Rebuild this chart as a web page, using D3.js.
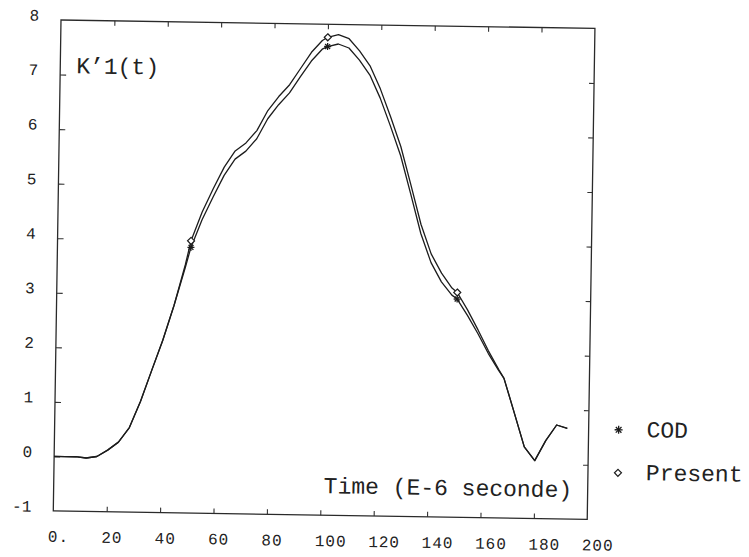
<!DOCTYPE html>
<html lang="en">
  <head>
    <meta charset="utf-8" />
    <title>K'1(t) - COD vs Present</title>
    <script src="https://cdnjs.cloudflare.com/ajax/libs/d3/7.8.5/d3.min.js"></script>
    <style>
      body { margin: 0; background: #fff; }
      text { font-family: "Liberation Mono", "DejaVu Sans Mono", monospace; fill: #222; }
    </style>
  </head>
  <body>
    <script type="text/javascript">
      /*************************** Data ***************************/

      var time = [0, 4, 8, 12, 16, 20, 24, 28, 32, 36, 40, 44, 48, 50,
        54, 58, 62, 66, 70, 74, 78, 82, 86, 90, 94, 98, 100,
        104, 108, 112, 116, 120, 124, 128, 132, 136, 140, 144, 148, 150,
        154, 158, 162, 166, 168, 172, 176, 180, 184, 188, 192];

      var present = [0, 0, 0, -0.02, 0.01, 0.13, 0.28, 0.55, 1.03, 1.6, 2.16, 2.8, 3.55, 3.99,
        4.52, 4.95, 5.35, 5.65, 5.8, 6.03, 6.4, 6.66, 6.88, 7.18, 7.48, 7.7, 7.76,
        7.81, 7.74, 7.52, 7.25, 6.83, 6.32, 5.78, 5.08, 4.36, 3.82, 3.47, 3.2, 3.12,
        2.8, 2.44, 2.06, 1.72, 1.56, 0.94, 0.31, 0.06, 0.43, 0.72, 0.66];

      var cod = [0, 0, 0, -0.02, 0.01, 0.13, 0.28, 0.55, 1.03, 1.6, 2.16, 2.8, 3.5, 3.87,
        4.38, 4.8, 5.2, 5.5, 5.65, 5.88, 6.25, 6.51, 6.73, 7.03, 7.32, 7.54, 7.59,
        7.64, 7.57, 7.35, 7.08, 6.66, 6.15, 5.61, 4.91, 4.19, 3.66, 3.31, 3.07, 3.0,
        2.7, 2.37, 2.01, 1.7, 1.56, 0.94, 0.31, 0.06, 0.43, 0.72, 0.66];

      var marker_times = [50, 100, 150];

      var x_ticks = [0, 20, 40, 60, 80, 100, 120, 140, 160, 180, 200];
      var x_tick_labels = ["0.", "20", "40", "60", "80", "100", "120", "140", "160", "180", "200"];
      var y_ticks = [-1, 0, 1, 2, 3, 4, 5, 6, 7, 8];

      var legend_labels = ["COD", "Present"];

      /*************************** Canvas ***************************/

      var width = 749, height = 557;
      var plot_w = 534, plot_h = 491;

      var svg = d3.select("body").append("svg")
        .attr("width", width)
        .attr("height", height);

      // the scanned page sits a little crooked
      var g = svg.append("g").attr("transform", "translate(61,20) rotate(0.9)");

      var x = d3.scaleLinear().domain([0, 200]).range([0, plot_w]);
      var y = d3.scaleLinear().domain([-1, 8]).range([plot_h, 0]);

      /*************************** Axes ***************************/

      var inner_x = x_ticks.slice(1, -1);
      var inner_y = y_ticks.slice(1, -1);

      function noDomain(sel) { sel.select(".domain").remove(); sel.selectAll("line").attr("stroke", "#333").attr("stroke-width", 1.1); }

      g.append("g").attr("transform", "translate(0," + plot_h + ")")
        .call(d3.axisBottom(x).tickValues(inner_x).tickSize(-5).tickFormat(""))
        .call(noDomain);
      g.append("g")
        .call(d3.axisTop(x).tickValues(inner_x).tickSize(-5).tickFormat(""))
        .call(noDomain);
      g.append("g")
        .call(d3.axisLeft(y).tickValues(inner_y).tickSize(-6).tickFormat(""))
        .call(noDomain);
      g.append("g").attr("transform", "translate(" + plot_w + ",0)")
        .call(d3.axisRight(y).tickValues(inner_y).tickSize(-5).tickFormat(""))
        .call(noDomain);

      g.append("rect")
        .attr("width", plot_w)
        .attr("height", plot_h)
        .attr("fill", "none")
        .attr("stroke", "#2a2a2a")
        .attr("stroke-width", 1.3);

      g.selectAll(".xlab").data(x_ticks).enter().append("text")
        .attr("class", "xlab")
        .attr("x", function (d) { return x(d) - 5; })
        .attr("y", plot_h + 31)
        .style("font-size", "16px")
        .style("letter-spacing", "1px")
        .text(function (d, i) { return x_tick_labels[i]; });

      g.selectAll(".ylab").data(y_ticks).enter().append("text")
        .attr("class", "ylab")
        .attr("x", -22)
        .attr("y", function (d) { return y(d) + 1; })
        .attr("text-anchor", "end")
        .style("font-size", "16px")
        .text(function (d) { return d; });

      /*************************** Curves ***************************/

      var line_gen = d3.line()
        .x(function (d) { return x(d[0]); })
        .y(function (d) { return y(d[1]); });

      var cod_pts = time.map(function (t, i) { return [t, cod[i]]; });
      var present_pts = time.map(function (t, i) { return [t, present[i]]; });

      [cod_pts, present_pts].forEach(function (pts) {
        g.append("path")
          .attr("d", line_gen(pts))
          .attr("fill", "none")
          .attr("stroke", "#1c1c1c")
          .attr("stroke-width", 1.3)
          .attr("stroke-linejoin", "round");
      });

      /*************************** Markers ***************************/

      function star(sel, r) {
        [0, 45, 90, 135].forEach(function (a) {
          var rad = a * Math.PI / 180;
          sel.append("line")
            .attr("x1", -r * Math.cos(rad)).attr("y1", -r * Math.sin(rad))
            .attr("x2", r * Math.cos(rad)).attr("y2", r * Math.sin(rad))
            .attr("stroke", "#1c1c1c").attr("stroke-width", 1.3);
        });
      }

      function diamond(sel, r) {
        sel.append("path")
          .attr("d", "M0," + (-r) + "L" + r + ",0L0," + r + "L" + (-r) + ",0Z")
          .attr("fill", "#fff")
          .attr("stroke", "#1c1c1c")
          .attr("stroke-width", 1.2);
      }

      marker_times.forEach(function (t) {
        var i = time.indexOf(t);
        g.append("g").attr("transform", "translate(" + x(t) + "," + y(present[i]) + ")").call(diamond, 3.5);
        g.append("g").attr("transform", "translate(" + x(t) + "," + y(cod[i]) + ")").call(star, 3.5);
      });

      /*************************** Texts ***************************/

      g.append("text").attr("x", 16).attr("y", 53).style("font-size", "23px").text("K\u20191(t)");
      g.append("text").attr("x", 270).attr("y", 469).style("font-size", "23px").text("Time (E-6 seconde)");

      /*************************** Legend ***************************/

      var legend_y = [401, 444];
      legend_labels.forEach(function (lab, i) {
        var sym = g.append("g").attr("transform", "translate(564," + legend_y[i] + ")");
        if (i === 0) { star(sym, 4); } else { diamond(sym, 3.5); }
        g.append("text")
          .attr("x", 592)
          .attr("y", legend_y[i] + 7)
          .style("font-size", "23px")
          .text(lab);
      });
    </script>
  </body>
</html>
